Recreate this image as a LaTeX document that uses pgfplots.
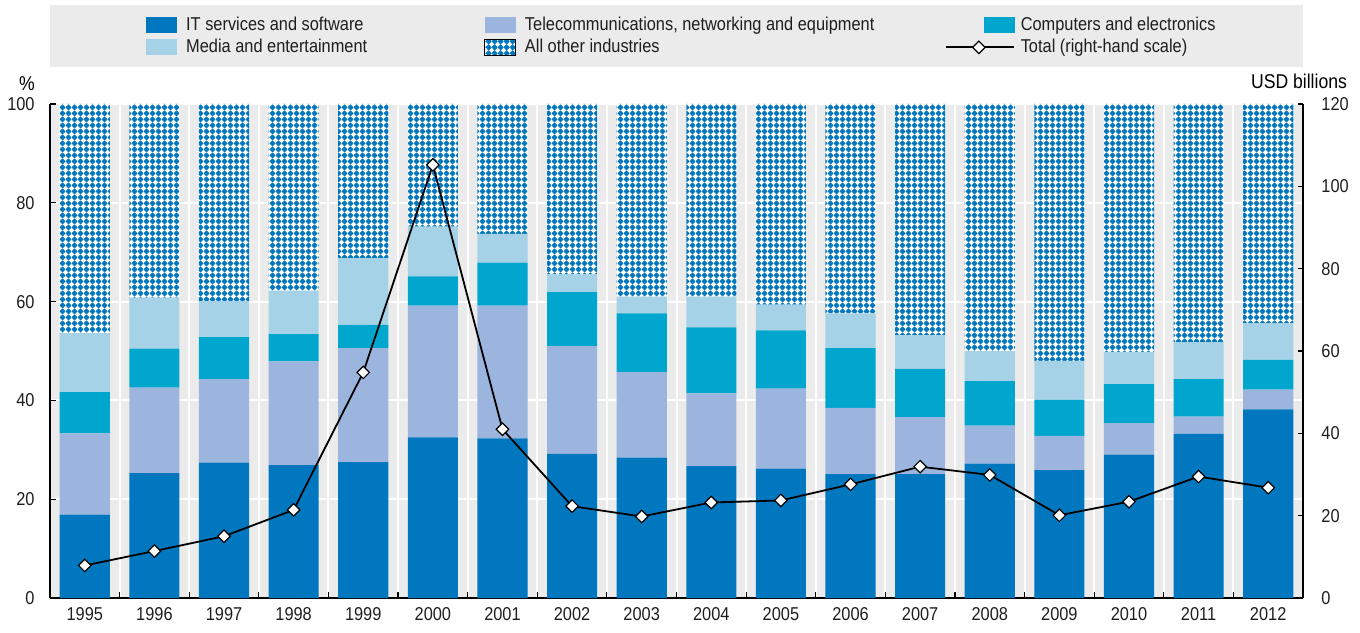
\documentclass[border=0pt]{standalone}
\usepackage{fontspec}
\setmainfont{Liberation Sans}[FakeStretch=0.88]
\usepackage{pgfplots}
\pgfplotsset{compat=1.18}
\usepackage{pgfplotstable}
\usetikzlibrary{patterns.meta}

\definecolor{itc}{RGB}{0,119,190}
\definecolor{telc}{RGB}{155,181,223}
\definecolor{compc}{RGB}{0,166,205}
\definecolor{medc}{RGB}{165,210,230}
\definecolor{bgc}{RGB}{235,235,235}
\definecolor{txtc}{RGB}{30,30,30}

\tikzdeclarepattern{
  name=oecdx, type=uncolored,
  bottom left={(0pt,0pt)}, top right={(3pt,3pt)},
  tile size={(3pt,3pt)},
  code={\filldraw[line width=0.35pt, line join=miter] (1.5pt,0pt) -- (3pt,1.5pt) -- (1.5pt,3pt) -- (0pt,1.5pt) -- cycle;}
}

\pgfplotstableread{
x it tel comp media other total
0 16.9 16.4 8.4 11.9 46.4 7.9
1 25.3 17.3 7.9 10.3 39.2 11.4
2 27.4 16.9 8.5 7.3 39.9 15.0
3 26.9 21.0 5.5 8.8 37.8 21.4
4 27.5 23.1 4.7 13.5 31.2 54.8
5 32.5 26.7 5.9 10.1 24.8 105.2
6 32.3 26.9 8.7 5.8 26.3 41.0
7 29.2 21.8 10.9 3.6 34.5 22.3
8 28.4 17.3 11.9 3.4 39.0 19.8
9 26.7 14.7 13.4 6.2 39.0 23.2
10 26.2 16.2 11.8 5.2 40.6 23.7
11 25.1 13.4 12.1 7.0 42.4 27.6
12 25.1 11.5 9.8 6.8 46.8 31.9
13 27.2 7.7 9.0 6.1 50.0 29.9
14 25.9 6.9 7.3 7.9 52.0 20.1
15 29.0 6.4 7.9 6.5 50.2 23.4
16 33.2 3.5 7.6 7.5 48.2 29.5
17 38.2 4.0 6.0 7.4 44.4 26.8
}\data

\pgfplotsset{
  common/.style={
    at={(0pt,0pt)}, anchor=south west,
    scale only axis, width=626.5pt, height=247pt,
    xmin=-0.5, xmax=17.5,
    axis line style={-, black, line width=0.8pt},
    tick align=inside, major tick length=2.5pt,
    every tick/.style={black, line width=0.6pt},
    /pgf/number format/assume math mode=true,
    tick label style={font=\fontsize{9.3}{11}\selectfont, text=txtc},
    label style={font=\fontsize{9.3}{11}\selectfont, text=txtc},
  },
  sq/.style={legend image code/.code={\path[##1, draw=none] (0pt,-4pt) rectangle (15.5pt,4pt); \path (0pt,0pt) (20pt,0pt);}},
  sqr/.style={legend image code/.code={\path[##1, draw=none] (19pt,-4pt) rectangle (34.5pt,4pt); \path (0pt,0pt) (37pt,0pt);}},
  ln/.style={legend image code/.code={\draw[mark repeat=2, mark phase=2, ##1] plot coordinates {(0pt,0pt) (16.5pt,0pt) (34pt,0pt)}; \path (37pt,0pt);}},
}

\begin{document}
\begin{tikzpicture}
\path[use as bounding box] (-25pt,-17pt) rectangle (655pt,299pt);
\fill[bgc] (0pt,265.5pt) rectangle (626.5pt,296.5pt);

\begin{axis}[common,
  ymin=0, ymax=100,
  ybar stacked, bar width=0.72,
  axis x line*=bottom, axis y line*=left,
  x axis line style={line width=1.1pt},
  axis background/.style={fill=bgc},
  xtick={0.5,1.5,...,16.5}, xticklabels={},
  major tick length=3pt,
  extra x ticks={0,1,...,17},
  extra x tick labels={1995,1996,1997,1998,1999,2000,2001,2002,2003,2004,2005,2006,2007,2008,2009,2010,2011,2012},
  extra x tick style={major tick length=0pt, grid=none},
  xticklabel style={anchor=north, inner sep=0pt, yshift=-4.5pt},
  ytick={0,20,...,100},
  yticklabel style={anchor=east, inner sep=0pt, xshift=-7.5pt},
  xmajorgrids=true, ymajorgrids=true,
  major grid style={white, line width=1pt},
  ylabel={\%},
  every axis y label/.style={at={(axis description cs:0,1)}, anchor=center, xshift=-11.5pt, yshift=10pt},
]
\addplot[fill=itc, draw=none] table[x=x, y=it]{\data};
\addplot[fill=telc, draw=none] table[x=x, y=tel]{\data};
\addplot[fill=compc, draw=none] table[x=x, y=comp]{\data};
\addplot[fill=medc, draw=none] table[x=x, y=media]{\data};
\addplot[fill=white, draw=none, postaction={pattern=oecdx, pattern color=itc}] table[x=x, y=other]{\data};
\end{axis}

\begin{axis}[common,
  ymin=0, ymax=120,
  axis y line*=right, axis x line=none,
  ytick={0,20,...,120},
  yticklabel style={anchor=west, inner sep=0pt, xshift=9pt},
  ylabel={USD billions},
  every axis y label/.style={at={(axis description cs:1,1)}, anchor=center, xshift=-2pt, yshift=11.5pt},
  legend columns=3,
  legend cell align=left,
  legend style={at={(axis description cs:0,1)}, anchor=north west, xshift=47.5pt, yshift=43.7pt,
    draw=none, fill=none, inner sep=0pt, row sep=2.6pt, column sep=0pt,
    font=\fontsize{9.3}{11}\selectfont, text=txtc,
    nodes={inner sep=0pt, text height=6.6pt, text depth=1.8pt}},
]
\addlegendimage{fill=itc, sq}
\addlegendentry{\makebox[149pt][l]{IT services and software}}
\addlegendimage{fill=telc, sq}
\addlegendentry{\makebox[210pt][l]{Telecommunications, networking and equipment}}
\addlegendimage{fill=compc, sqr}
\addlegendentry{Computers and electronics}
\addlegendimage{fill=medc, sq}
\addlegendentry{\makebox[149pt][l]{Media and entertainment}}
\addlegendimage{fill=white, postaction={pattern=oecdx, pattern color=itc}, sq}
\addlegendentry{\makebox[210pt][l]{All other industries}}
\addplot[black, line width=0.9pt, mark=square*, mark size=2.2pt,
  mark options={rotate=45, fill=white, draw=black, line width=0.6pt, solid}, ln]
  table[x=x, y=total]{\data};
\addlegendentry{Total (right-hand scale)}
\end{axis}
\end{tikzpicture}
\end{document}
